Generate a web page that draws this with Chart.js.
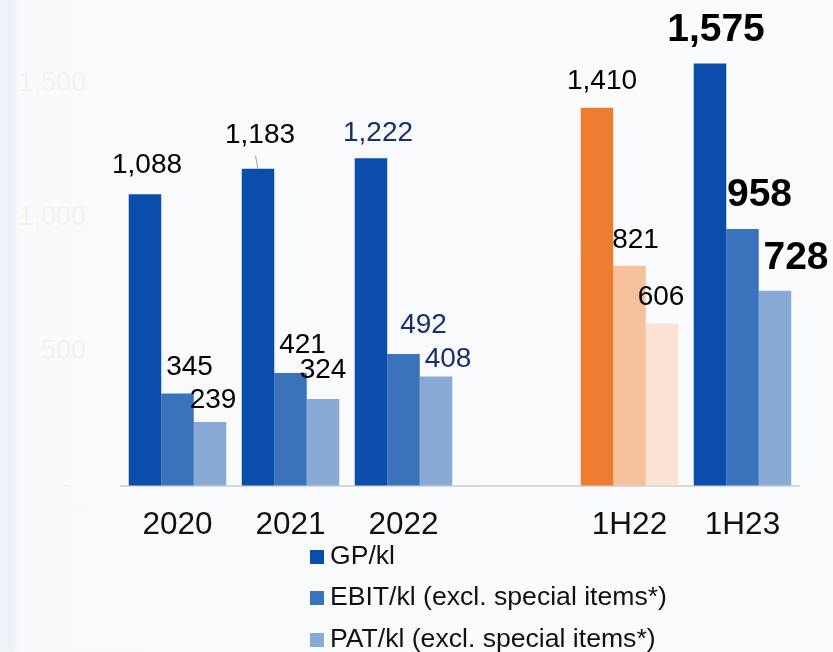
<!DOCTYPE html>
<html>
<head>
<meta charset="utf-8">
<script src="https://cdn.jsdelivr.net/npm/chart.js@4"></script>
<style>
  html, body { margin: 0; padding: 0; }
  body {
    width: 833px; height: 652px; overflow: hidden;
    background: linear-gradient(to right, #edf2f8 0px, #eef3f9 14px, #f8fafc 19px, #fafbfd 100%);
  }
  canvas { display: block; }
</style>
</head>
<body>
<canvas id="c" width="833" height="652"></canvas>
<script>
// Per-kl profitability: full years and half-years
const categories = ['2020', '2021', '2022', '', '1H22', '1H23'];
const gpPerKl   = [1088, 1183, 1222, null, 1410, 1575];
const ebitPerKl = [345, 421, 492, null, 821, 958];
const patPerKl  = [239, 324, 408, null, 606, 728];
const seriesNames = ['GP/kl', 'EBIT/kl (excl. special items*)', 'PAT/kl (excl. special items*)'];
const yTickValues = [0, 500, 1000, 1500];

const FONT = '"Liberation Sans", Arial, Helvetica, sans-serif';

const blues   = ['#0a4daa', '#3a72bc', '#8aaad6'];
const oranges = ['#ed7d31', '#f5c09a', '#fae3d5'];

// bar colours: the 1H22 group is shown in orange tones
function barColors(k) {
  return categories.map((c, i) => (i === 4 ? oranges[k] : blues[k]));
}

// value label look per category
const labelLook = [
  { color: '#000000', bold: false },
  { color: '#000000', bold: false },
  { color: '#1b2f6b', bold: false },
  null,
  { color: '#000000', bold: false },
  { color: '#000000', bold: true }
];
// label nudges [dx, rise above bar top] per series / category
const labelNudge = [
  [[2, 29], [2, 33], [7, 25], null, [5, 27], [6, 33]],
  [[12, 26], [12, 28], [20, 29], null, [6, 25], [17, 34]],
  [[3, 22], [0, 29], [12, 17], null, [-1, 26], [21, 32]]
];

const valueLabels = {
  id: 'valueLabels',
  afterDatasetsDraw(chart) {
    const ctx = chart.ctx;
    ctx.save();
    ctx.textAlign = 'center';
    ctx.textBaseline = 'middle';
    chart.data.datasets.forEach((ds, k) => {
      const meta = chart.getDatasetMeta(k);
      meta.data.forEach((bar, i) => {
        const v = ds.data[i];
        if (v == null) return;
        const look = labelLook[i];
        const [dx, rise] = labelNudge[k][i];
        ctx.font = (look.bold ? 'bold 39px ' : '28px ') + FONT;
        ctx.fillStyle = look.color;
        ctx.fillText(v.toLocaleString('en-US'), bar.x + dx, bar.y - rise);
        if (k === 0 && i === 1) {
          // short leader from the label to its bar
          ctx.strokeStyle = '#a0a0a0';
          ctx.lineWidth = 1;
          ctx.beginPath();
          ctx.moveTo(bar.x - 2.5, bar.y - 13);
          ctx.lineTo(bar.x, bar.y);
          ctx.stroke();
        }
      });
    });
    ctx.restore();
  }
};

// stacked legend list under the axis
const listLegend = {
  id: 'listLegend',
  afterDraw(chart, args, opts) {
    const ctx = chart.ctx;
    ctx.save();
    ctx.textAlign = 'left';
    ctx.textBaseline = 'middle';
    ctx.font = '26.6px ' + FONT;
    chart.data.datasets.forEach((ds, k) => {
      const y = opts.rows[k];
      ctx.fillStyle = ds.legendColor;
      ctx.fillRect(opts.x, y - 7, 14, 14);
      ctx.fillStyle = '#111111';
      ctx.fillText(ds.label, opts.x + 20, y);
    });
    ctx.restore();
  }
};

const seriesValues = [gpPerKl, ebitPerKl, patPerKl];

new Chart(document.getElementById('c'), {
  type: 'bar',
  data: {
    labels: categories,
    datasets: seriesValues.map((vals, k) => ({
      label: seriesNames[k],
      data: vals,
      backgroundColor: barColors(k),
      legendColor: blues[k],
      borderWidth: 0,
      categoryPercentage: 0.863,
      barPercentage: 1.0
    }))
  },
  options: {
    responsive: false,
    animation: false,
    layout: { padding: { top: 30, right: 34, bottom: 110, left: 0 } },
    plugins: {
      legend: { display: false },
      tooltip: { enabled: false },
      listLegend: { x: 310, rows: [557, 598, 640] }
    },
    scales: {
      x: {
        grid: { display: false },
        border: { display: true, color: '#d9d9d9', width: 2 },
        ticks: { color: '#111111', font: { family: FONT, size: 31.5 }, padding: 12, maxRotation: 0, autoSkip: false },
        afterFit(scale) { scale.height = 56; }
      },
      y: {
        min: 0,
        max: 1700,
        // invisible tick marks keep the faint labels clear of the bars
        grid: { display: true, drawOnChartArea: false, drawTicks: true, tickLength: 35, tickColor: 'rgba(0,0,0,0)', color: 'rgba(0,0,0,0)' },
        border: { display: false },
        afterBuildTicks(scale) { scale.ticks = yTickValues.map((v) => ({ value: v })); },
        ticks: {
          padding: 0,
          color: '#f4f2ec',
          font: { family: FONT, size: 27 },
          callback: (v) => (v === 0 ? '-  ' : v.toLocaleString('en-US'))
        },
        afterFit(scale) { scale.width = 121; }
      }
    }
  },
  plugins: [valueLabels, listLegend]
});
</script>
</body>
</html>
